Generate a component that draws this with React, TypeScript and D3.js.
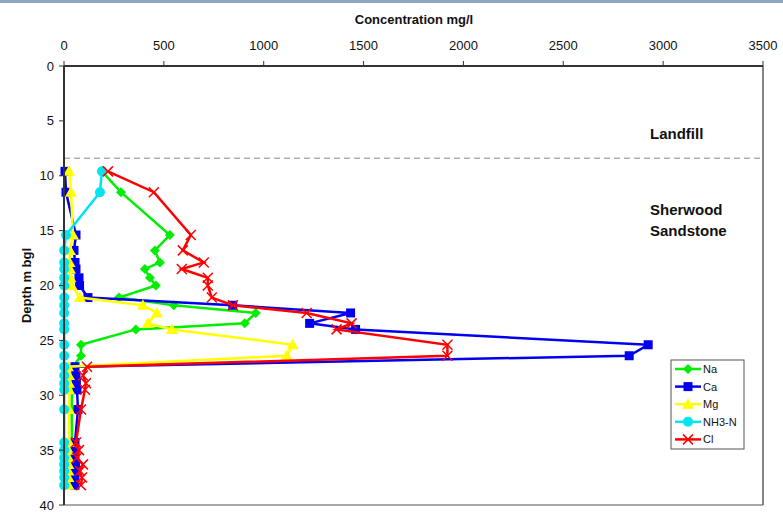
import React from "react";
import * as d3 from "d3";

// Sample depths (m below ground level)
const depths = [9.6, 11.5, 15.4, 16.8, 17.9, 18.5, 19.3, 20.0, 21.1, 21.8, 22.5, 23.45, 24.0, 25.4, 26.4, 27.4, 28.2, 28.9, 29.5, 31.3, 34.3, 35.0, 35.7, 36.3, 36.9, 37.5, 38.2];

// Concentrations (mg/l) per determinand
const na = [190, 285, 530, 455, 480, 405, 430, 460, 275, 550, 960, 905, 360, 85, 85, 45, 42, 40, 40, 38, 40, 38, 36, 38, 36, 38, 36];
const ca = [5, 10, 60, 50, 55, 60, 75, 78, 120, 845, 1435, 1230, 1460, 2925, 2830, 55, 60, 62, 65, 70, 55, 55, 55, 58, 55, 55, 55];
const mg = [25, 35, 45, 30, 28, 30, 32, 38, 80, 395, 465, 420, 540, 1145, 1115, 20, 25, 25, 25, 25, 25, 22, 22, 22, 22, 22, 22];
const nh3n = [190, 180, 10, 1, 1, 1, 1, 1, 1, 1, 1, 1, 1, 1, 1, 1, 1, 1, 1, 1, 1, 1, 1, 1, 1, 1, 1];
const cl = [220, 450, 635, 595, 700, 590, 720, 720, 740, 845, 1215, 1440, 1365, 1920, 1920, 115, 95, 110, 105, 85, 60, 75, 65, 95, 80, 90, 85];

const seriesNames = ["Na", "Ca", "Mg", "NH3-N", "Cl"];
const seriesValues = [na, ca, mg, nh3n, cl];
const seriesColors = ["#00ee00", "#0000ee", "#ffff00", "#00e5ee", "#ff0000"];
const seriesMarkers = ["diamond", "square", "triangle", "circle", "cross"];

const xTicks = [0, 500, 1000, 1500, 2000, 2500, 3000, 3500];
const yTicks = [0, 5, 10, 15, 20, 25, 30, 35, 40];
const landfillBase = 8.4;

const W = 783;
const H = 513;
const left = 64;
const right = 763;
const top = 66;
const bottom = 505;

const x = d3.scaleLinear().domain([0, 3500]).range([left, right]);
const y = d3.scaleLinear().domain([0, 40]).range([top, bottom]);

const FONT = "Liberation Sans, Arial, sans-serif";

function Marker({ kind, cx, cy, color }: { kind: string; cx: number; cy: number; color: string }) {
  if (kind === "diamond") {
    const r = 5;
    return <path d={`M${cx},${cy - r}L${cx + r},${cy}L${cx},${cy + r}L${cx - r},${cy}Z`} fill={color} />;
  }
  if (kind === "square") {
    return <rect x={cx - 4.5} y={cy - 4.5} width={9} height={9} fill={color} />;
  }
  if (kind === "triangle") {
    return <path d={`M${cx},${cy - 6}L${cx + 6},${cy + 4.5}L${cx - 6},${cy + 4.5}Z`} fill={color} />;
  }
  if (kind === "circle") {
    return <circle cx={cx} cy={cy} r={5} fill={color} />;
  }
  const r = 5;
  return (
    <path
      d={`M${cx - r},${cy - r}L${cx + r},${cy + r}M${cx - r},${cy + r}L${cx + r},${cy - r}`}
      stroke={color}
      strokeWidth={1.5}
      fill="none"
    />
  );
}

export default function App() {
  const line = d3
    .line<number>()
    .x((v) => x(v))
    .y((_, i) => y(depths[i]));

  return (
    <svg
      width={W}
      height={H}
      style={{ position: "fixed", left: 0, top: 0, background: "#fff" }}
      fontFamily={FONT}
    >
      <rect x={0} y={0} width={W} height={3} fill="#8aa6c3" />

      {/* frame */}
      <line x1={right} y1={top} x2={right} y2={bottom} stroke="#333" strokeWidth={1.2} />
      <line x1={left} y1={bottom} x2={right} y2={bottom} stroke="#555" strokeWidth={1.2} />

      {/* landfill / sandstone boundary */}
      <line
        x1={left}
        x2={right}
        y1={y(landfillBase)}
        y2={y(landfillBase)}
        stroke="#888"
        strokeWidth={1}
        strokeDasharray="6,4"
      />
      <text x={650} y={139} fontSize={15} fontWeight="bold" fill="#111">Landfill</text>
      <text x={650} y={215} fontSize={15} fontWeight="bold" fill="#111">Sherwood</text>
      <text x={650} y={236} fontSize={15} fontWeight="bold" fill="#111">Sandstone</text>

      {/* series */}
      {seriesValues.map((vals, si) => (
        <g key={seriesNames[si]}>
          <path d={line(vals) || ""} fill="none" stroke={seriesColors[si]} strokeWidth={2.5} />
          {vals.map((v, i) => (
            <Marker key={i} kind={seriesMarkers[si]} cx={x(v)} cy={y(depths[i])} color={seriesColors[si]} />
          ))}
        </g>
      ))}

      {/* top axis */}
      <line x1={left} y1={top} x2={right} y2={top} stroke="#333" strokeWidth={2.2} />
      {xTicks.map((t) => (
        <g key={t}>
          <line x1={x(t)} x2={x(t)} y1={top} y2={top - 5} stroke="#333" strokeWidth={1} />
          <text x={x(t)} y={50} fontSize={13} textAnchor="middle" fill="#111">{t}</text>
        </g>
      ))}
      <text x={414} y={24} fontSize={13} fontWeight="bold" textAnchor="middle" fill="#111">
        Concentration mg/l
      </text>

      {/* left axis */}
      <line x1={left} y1={top} x2={left} y2={bottom} stroke="#333" strokeWidth={2} />
      {yTicks.map((t) => (
        <g key={t}>
          <line x1={left - 5} x2={left} y1={y(t)} y2={y(t)} stroke="#333" strokeWidth={1} />
          <text x={54} y={y(t) + 4.5} fontSize={13} textAnchor="end" fill="#111">{t}</text>
        </g>
      ))}
      <text
        transform={`translate(31,${y(20)}) rotate(-90)`}
        fontSize={13}
        fontWeight="bold"
        textAnchor="middle"
        fill="#111"
      >
        Depth m bgl
      </text>

      {/* legend */}
      <rect x={671} y={360} width={73} height={89} fill="#fff" stroke="#555" strokeWidth={1} />
      {seriesNames.map((n, i) => {
        const ly = 369 + i * 17.6;
        return (
          <g key={n}>
            <line x1={675} x2={701} y1={ly} y2={ly} stroke={seriesColors[i]} strokeWidth={2.5} />
            <Marker kind={seriesMarkers[i]} cx={688} cy={ly} color={seriesColors[i]} />
            <text x={703} y={ly + 4} fontSize={11} fill="#111">{n}</text>
          </g>
        );
      })}
    </svg>
  );
}
